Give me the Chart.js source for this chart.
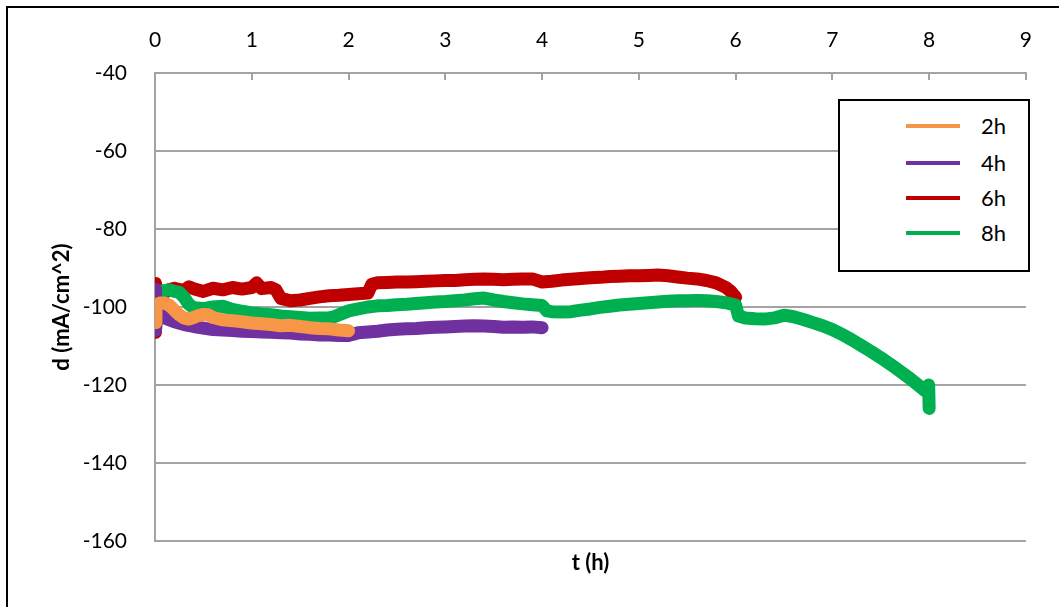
<!DOCTYPE html>
<html>
<head>
<meta charset="utf-8">
<script src="https://cdn.jsdelivr.net/npm/chart.js@4"></script>
<style>
  html, body { margin: 0; padding: 0; background: #fff; overflow: hidden; }
  #wrap { position: relative; width: 1059px; height: 607px; }
  #frame { position: absolute; left: 6px; top: 6px; width: 1200px; height: 800px; border: 2px solid #000; box-sizing: border-box; }
  #chart { position: absolute; left: 0; top: 0; }
  #legend { position: absolute; left: 838px; top: 99px; width: 192px; height: 173px; border: 2px solid #000; background: #fff; box-sizing: border-box; font-family: Lato, sans-serif; font-size: 22px; color: #000; }
  .item { position: absolute; left: 0; height: 26px; width: 100%; }
  .item span.swatch { position: absolute; left: 66px; top: 11px; width: 54px; height: 4px; }
  .item span.text { position: absolute; left: 141px; top: 0; line-height: 26px; }
</style>
</head>
<body>
<div id="wrap">
  <div id="frame"></div>
  <canvas id="chart" width="1059" height="607"></canvas>
  <div id="legend"></div>
</div>
<script>
// Series: time (h) and current density d (mA/cm^2)
const t2h = [0, 0.01, 0.05, 0.1, 0.15, 0.2, 0.25, 0.3, 0.35, 0.4, 0.45, 0.5, 0.55, 0.6, 0.7, 0.8, 0.9, 1.0, 1.1, 1.2, 1.3, 1.4, 1.5, 1.6, 1.7, 1.8, 1.9, 2.0];
const d2h = [-104, -99.5, -99, -99, -99.6, -100.8, -102, -102.8, -103.1, -102.7, -102.2, -101.9, -102, -102.7, -103.3, -103.5, -103.8, -104.1, -104.3, -104.5, -104.8, -104.7, -105, -105.3, -105.5, -105.6, -105.9, -106.1];

const t4h = [0, 0.005, 0.02, 0.06, 0.1, 0.2, 0.3, 0.4, 0.5, 0.6, 0.7, 0.8, 0.9, 1.0, 1.1, 1.2, 1.3, 1.4, 1.5, 1.6, 1.7, 1.8, 1.9, 2.0, 2.05, 2.1, 2.2, 2.3, 2.4, 2.5, 2.6, 2.7, 2.8, 2.9, 3.0, 3.1, 3.2, 3.3, 3.4, 3.5, 3.6, 3.7, 3.8, 3.9, 4.0];
const d4h = [-95.5, -106, -102.5, -102, -102.8, -103.8, -104.5, -105, -105.4, -105.8, -105.9, -106, -106.2, -106.3, -106.4, -106.5, -106.6, -106.7, -106.9, -107, -107.2, -107.2, -107.3, -107.3, -107, -106.6, -106.4, -106.2, -105.9, -105.7, -105.6, -105.5, -105.3, -105.2, -105.1, -105, -104.9, -104.8, -104.9, -105, -105.2, -105.1, -105.2, -105.1, -105.3];

const t6h = [0, 0.005, 0.03, 0.08, 0.15, 0.2, 0.3, 0.35, 0.4, 0.5, 0.6, 0.7, 0.8, 0.9, 1.0, 1.05, 1.1, 1.2, 1.25, 1.3, 1.4, 1.5, 1.6, 1.7, 1.8, 1.9, 2.0, 2.1, 2.2, 2.24, 2.3, 2.4, 2.5, 2.6, 2.7, 2.8, 2.9, 3.0, 3.1, 3.2, 3.3, 3.4, 3.5, 3.6, 3.7, 3.8, 3.9, 4.0, 4.1, 4.2, 4.3, 4.4, 4.5, 4.6, 4.7, 4.8, 4.9, 5.0, 5.1, 5.2, 5.3, 5.4, 5.5, 5.6, 5.7, 5.8, 5.9, 5.95, 6.0];
const d6h = [-106.5, -94, -96.5, -96.6, -95.5, -95.2, -95.8, -94.8, -95.3, -96, -95.2, -95.6, -95, -95.4, -95, -93.8, -95.3, -95, -95.6, -97.8, -98.4, -98.2, -97.8, -97.4, -97.1, -97, -96.8, -96.6, -96.4, -94.2, -93.8, -93.7, -93.6, -93.6, -93.5, -93.4, -93.3, -93.2, -93.2, -93, -92.9, -92.8, -92.9, -93, -92.9, -92.8, -92.8, -93.6, -93.4, -93.1, -92.9, -92.7, -92.5, -92.4, -92.2, -92.1, -92, -92, -91.9, -91.8, -92, -92.3, -92.6, -92.8, -93.2, -93.8, -95, -96, -97.5];

const t8h = [0, 0.01, 0.05, 0.1, 0.15, 0.2, 0.25, 0.3, 0.35, 0.4, 0.5, 0.6, 0.7, 0.8, 0.9, 1.0, 1.1, 1.2, 1.3, 1.4, 1.5, 1.6, 1.7, 1.8, 1.85, 1.95, 2.0, 2.1, 2.2, 2.3, 2.4, 2.5, 2.6, 2.7, 2.8, 2.9, 3.0, 3.1, 3.2, 3.3, 3.4, 3.5, 3.6, 3.7, 3.8, 3.9, 4.0, 4.05, 4.1, 4.2, 4.3, 4.4, 4.5, 4.6, 4.7, 4.8, 4.9, 5.0, 5.1, 5.2, 5.3, 5.4, 5.5, 5.6, 5.7, 5.8, 5.9, 5.95, 6.0, 6.03, 6.1, 6.2, 6.3, 6.4, 6.5, 6.6, 6.7, 6.8, 6.9, 7.0, 7.1, 7.2, 7.3, 7.4, 7.5, 7.6, 7.7, 7.8, 7.9, 7.95, 7.99, 7.995, 8.0];
const d8h = [-98, -96.2, -96, -95.8, -95.6, -96, -96.2, -97.5, -99.3, -100.2, -100.4, -100, -99.8, -100.6, -101.1, -101.5, -101.8, -102, -102.3, -102.5, -102.7, -102.9, -102.8, -102.8, -102.5, -101.5, -101, -100.5, -100, -99.7, -99.6, -99.4, -99.3, -99.1, -98.9, -98.7, -98.6, -98.4, -98.2, -97.9, -97.7, -98.2, -98.6, -98.9, -99.2, -99.4, -99.6, -101, -101.2, -101.3, -101.2, -100.8, -100.5, -100.1, -99.8, -99.5, -99.3, -99.1, -98.9, -98.7, -98.5, -98.4, -98.4, -98.3, -98.4, -98.6, -98.9, -99.2, -99.5, -102.3, -102.8, -103, -103.1, -102.8, -102.1, -102.5, -103.2, -104, -104.8, -105.8, -107, -108.4, -109.9, -111.4, -113, -114.7, -116.5, -118.3, -120.3, -121.3, -122, -120, -126];

const seriesLabels = ['2h', '4h', '6h', '8h'];
const seriesColors = ['#F79646', '#7030A0', '#C00000', '#00B050'];
// drawing order: orange on top, then purple, green, red at the bottom
const seriesOrder = [0, 1, 3, 2];

const xTicks = [0, 1, 2, 3, 4, 5, 6, 7, 8, 9];
const yTicks = [-160, -140, -120, -100, -80, -60, -40];

const FONT = 'Lato, "Open Sans", sans-serif';
const GRID = '#a3a3a3';

function toPoints(ts, ds) {
  return ts.map((t, i) => ({ x: t, y: ds[i] }));
}

const allSeries = [[t2h, d2h], [t4h, d4h], [t6h, d6h], [t8h, d8h]];

const datasets = allSeries.map(([ts, ds], i) => ({
  label: seriesLabels[i],
  data: toPoints(ts, ds),
  borderColor: seriesColors[i],
  backgroundColor: seriesColors[i],
  borderWidth: 13,
  borderCapStyle: 'round',
  borderJoinStyle: 'round',
  pointRadius: 0,
  showLine: true,
  tension: 0,
  order: seriesOrder[i]
}));

Chart.defaults.font.family = FONT;
Chart.defaults.color = '#000';

new Chart(document.getElementById('chart'), {
  type: 'scatter',
  data: { datasets },
  options: {
    responsive: false,
    animation: false,
    layout: { padding: { left: 0, top: 0, right: 29, bottom: 0 } },
    plugins: {
      legend: { display: false },
      tooltip: { enabled: false }
    },
    scales: {
      x: {
        type: 'linear',
        position: 'top',
        min: xTicks[0],
        max: xTicks[xTicks.length - 1],
        afterBuildTicks: s => { s.ticks = xTicks.map(v => ({ value: v })); },
        ticks: { color: '#000', font: { size: 21 }, padding: 27 },
        grid: { display: true, drawOnChartArea: false, drawTicks: true, tickLength: -7, color: GRID, lineWidth: 2 },
        border: { display: true, color: GRID, width: 2 },
        afterFit: s => { s.height = 73; }
      },
      x2: {
        type: 'linear',
        position: 'bottom',
        min: 0,
        max: 9,
        ticks: { display: false },
        grid: { display: false },
        border: { display: false },
        title: { display: true, text: 't (h)', font: { size: 22, weight: 'bold' }, padding: { top: 0, bottom: 31 } },
        afterFit: s => { s.height = 66; }
      },
      y: {
        type: 'linear',
        min: yTicks[0],
        max: yTicks[yTicks.length - 1],
        afterBuildTicks: s => { s.ticks = yTicks.map(v => ({ value: v })); },
        ticks: { color: '#000', font: { size: 21 }, padding: 28 },
        grid: { color: GRID, lineWidth: 2, drawTicks: false },
        border: { display: true, color: GRID, width: 2 },
        title: { display: true, text: 'd (mA/cm^2)', font: { size: 22, weight: 'bold' }, padding: { top: 49, bottom: 0 } },
        afterFit: s => { s.width = 155; }
      }
    }
  }
});

// legend box drawn inside the plot, like the original
const legendEl = document.getElementById('legend');
const rowTops = [12, 49, 84, 119];
seriesLabels.forEach((lab, i) => {
  const row = document.createElement('div');
  row.className = 'item';
  row.style.top = rowTops[i] + 'px';
  row.innerHTML = `<span class="swatch" style="background:${seriesColors[i]}"></span><span class="text">${lab}</span>`;
  legendEl.appendChild(row);
});
</script>
</body>
</html>
